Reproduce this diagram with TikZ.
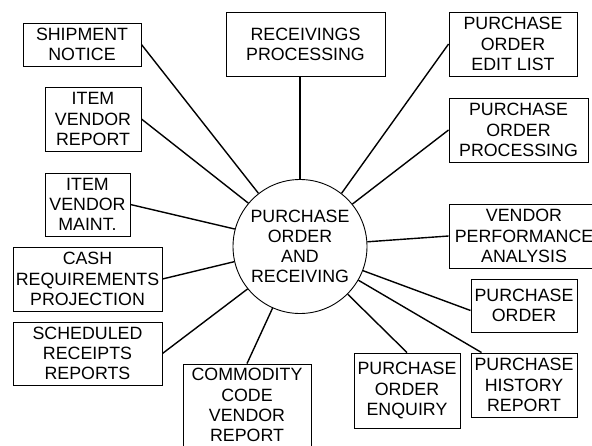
\documentclass[tikz,border=0pt]{standalone}
\usepackage{fontspec}
\setmainfont{Liberation Sans}
\usepackage{tikz}
\usetikzlibrary{positioning}

\begin{document}
\begin{tikzpicture}[
    x=1pt,y=-1pt,
    box/.style={draw,line width=0.9pt,align=center,inner sep=2pt,
                font=\fontsize{17.8}{20.2}\selectfont},
    hubnode/.style={draw,circle,line width=0.9pt,minimum size=134pt,
                align=center,inner sep=0pt,
                font=\fontsize{17.8}{20.2}\selectfont},
    link/.style={line width=1.4pt}]
  \useasboundingbox (0,0) rectangle (592,445);
  \fill[white] (0,0) rectangle (592,445);

  \node[hubnode] (hub) at (300,246.5) {PURCHASE\\ORDER\\AND\\RECEIVING};

  % left column
  \node[box,minimum width=118pt,minimum height=43pt] (ship) at (82,44.5)
        {SHIPMENT\\NOTICE};
  \node[box,minimum width=96pt,minimum height=64pt] (ivreport) at (93,119)
        {ITEM\\VENDOR\\REPORT};
  \node[box,minimum width=85pt,minimum height=63pt] (ivmaint) at (87.5,204.5)
        {ITEM\\VENDOR\\MAINT.};
  \node[box,minimum width=149pt,minimum height=64pt] (cash) at (87.5,279)
        {CASH\\REQUIREMENTS\\PROJECTION};
  \node[box,minimum width=149pt,minimum height=63pt] (sched) at (87.5,353.5)
        {SCHEDULED\\RECEIPTS\\REPORTS};
  \node[box,minimum width=128pt,minimum height=82pt] (commodity) at (247,405)
        {COMMODITY\\CODE\\VENDOR\\REPORT};

  % top and right
  \node[box,minimum width=159pt,minimum height=64pt] (recv) at (305.5,44)
        {RECEIVINGS\\PROCESSING};
  \node[box,minimum width=128pt,minimum height=64pt] (editlist) at (513,44)
        {PURCHASE\\ORDER\\EDIT LIST};
  \node[box,minimum width=139pt,minimum height=64pt] (poproc) at (518.5,130)
        {PURCHASE\\ORDER\\PROCESSING};
  \node[box,minimum width=150pt,minimum height=64pt] (vendperf) at (524,236)
        {VENDOR\\PERFORMANCE\\ANALYSIS};
  \node[box,minimum width=106pt,minimum height=53pt] (porder) at (524,305.5)
        {PURCHASE\\ORDER};
  \node[box,minimum width=106pt,minimum height=64pt] (history) at (524,385)
        {PURCHASE\\HISTORY\\REPORT};
  \node[box,minimum width=106pt,minimum height=75pt] (enquiry) at (407,390.5)
        {PURCHASE\\ORDER\\ENQUIRY};

  \draw[link] (ship.east)      -- (hub.128);
  \draw[link] (ivreport.east)  -- (hub.140);
  \draw[link] (ivmaint.east)   -- (hub.165);
  \draw[link] (cash.east)      -- (hub.193);
  \draw[link] (sched.east)     -- (hub.219);
  \draw[link] (commodity.north) -- (hub.246);
  \draw[link] (hub.90)         -- (hub.90 |- recv.south);
  \draw[link] (editlist.west)  -- (hub.52.5);
  \draw[link] (poproc.west)    -- (hub.39);
  \draw[link] (vendperf.west)  -- (hub.4);
  \draw[link] ([yshift=-5pt]porder.west) -- (hub.-21);
  \draw[link] ([xshift=11pt]history.north west) -- (hub.-30);
  \draw[link] (enquiry.north)  -- (hub.-45);
\end{tikzpicture}
\end{document}
